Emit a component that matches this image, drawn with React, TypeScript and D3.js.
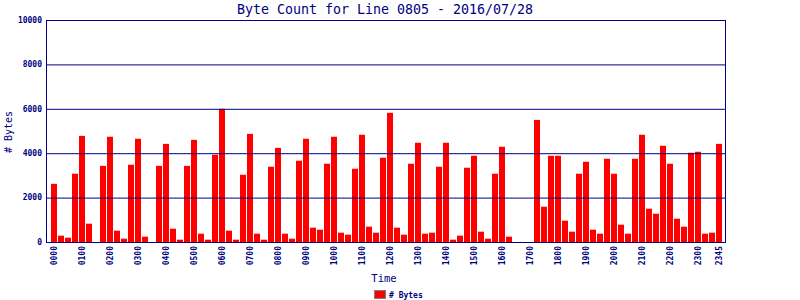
import React from "react";
import * as d3 from "d3";

const title = "Byte Count for Line 0805 - 2016/07/28";
const yTicks = [0, 2000, 4000, 6000, 8000, 10000];
const bytes = [
  2620, 285, 195, 3075, 4780, 825, 0, 3430,
  4740, 510, 150, 3480, 4650, 240, 0, 3430,
  4420, 600, 105, 3430, 4600, 375, 105, 3930,
  6000, 510, 105, 3030, 4870, 375, 105, 3390,
  4240, 375, 150, 3660, 4650, 645, 555, 3525,
  4740, 420, 330, 3300, 4830, 690, 420, 3795,
  5820, 645, 330, 3525, 4470, 375, 420, 3390,
  4470, 105, 285, 3345, 3885, 465, 150, 3075,
  4290, 240, 0, 0, 0, 5500, 1590, 3885,
  3885, 960, 465, 3075, 3615, 555, 375, 3750,
  3075, 780, 375, 3750, 4830, 1500, 1275, 4335,
  3525, 1050, 690, 4020, 4065, 375, 420, 4420,
];
const times = bytes.map((_, i) => {
  const h = Math.floor(i / 4);
  const m = (i % 4) * 15;
  return String(h).padStart(2, "0") + String(m).padStart(2, "0");
});
const labelTimes = times.filter((t, i) => i % 4 === 0 || i === times.length - 1);

const NAVY = "#000080";
const MONO = "'DejaVu Sans Mono', 'Liberation Mono', monospace";

export default function App() {
  const left = 46, right = 725, top = 20, bottom = 242;
  const x = d3.scaleBand<string>().domain(times).range([51, 722]).paddingInner(1 / 7).paddingOuter(0);
  const y = d3.scaleLinear().domain([0, 10000]).range([bottom, top]);
  return (
    <svg width={800} height={300} style={{ position: "absolute", left: 0, top: 0, background: "#fff" }}>
      <rect x={0} y={0} width={800} height={300} fill="#fff" />
      <text x={385} y={14} textAnchor="middle" fill={NAVY} fontFamily={MONO} fontSize={13.3}>{title}</text>
      {bytes.map((v, i) => (
        <rect key={i} x={x(times[i])} y={y(v)} width={x.bandwidth()} height={bottom - y(v)} fill="#ff0000" />
      ))}
      {yTicks.map((t) => (
        <g key={t}>
          <line x1={left} x2={right} y1={y(t) + 0.5} y2={y(t) + 0.5} stroke={NAVY} strokeWidth={1} />
          <text x={42} y={y(t)} dy="0.35em" textAnchor="end" fill={NAVY} fontFamily={MONO} fontSize={8} fontWeight="bold">{t}</text>
        </g>
      ))}
      <line x1={left + 0.5} x2={left + 0.5} y1={top} y2={bottom + 1} stroke={NAVY} />
      <line x1={right + 0.5} x2={right + 0.5} y1={top} y2={bottom + 1} stroke={NAVY} />
      {labelTimes.map((t) => {
        const cx = (x(t) as number) + x.bandwidth() / 2;
        return (
          <text key={t} transform={`translate(${cx},246) rotate(-90)`} dy="0.35em" textAnchor="end" fill={NAVY} fontFamily={MONO} fontSize={8} fontWeight="bold">{t}</text>
        );
      })}
      <text transform="translate(8,132) rotate(-90)" dy="0.35em" textAnchor="middle" fill={NAVY} fontFamily={MONO} fontSize={10}>{"# Bytes"}</text>
      <text x={384} y={282} textAnchor="middle" fill={NAVY} fontFamily={MONO} fontSize={10.5}>Time</text>
      <rect x={374.5} y={290.5} width={11} height={8} fill="#ff0000" stroke="#808080" strokeWidth={1} />
      <text x={389} y={295} dy="0.35em" fill={NAVY} fontFamily={MONO} fontSize={8} fontWeight="bold">{"# Bytes"}</text>
    </svg>
  );
}
